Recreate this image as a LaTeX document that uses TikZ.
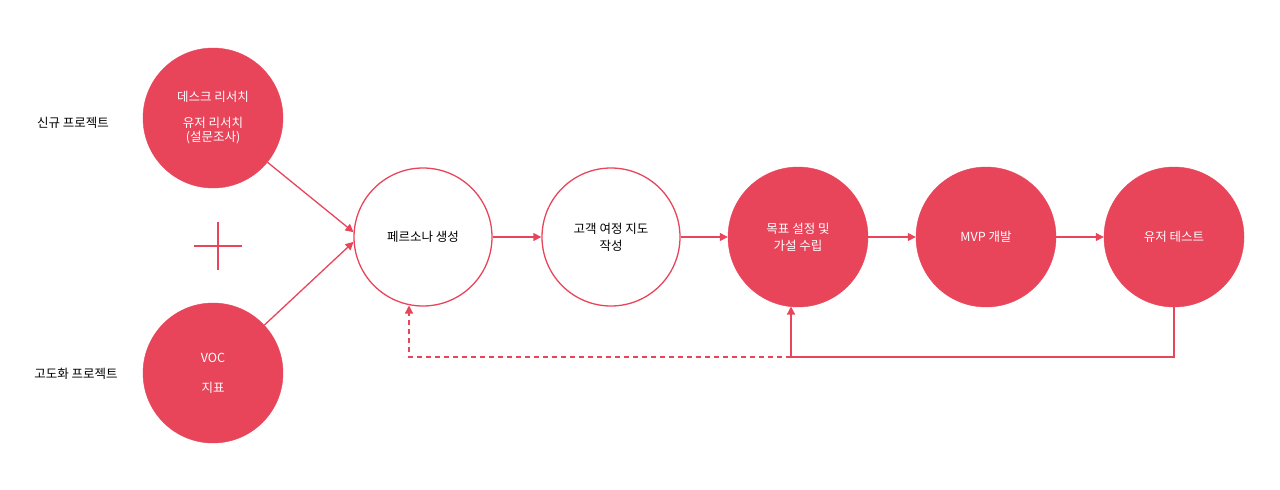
\documentclass[tikz,border=0pt]{standalone}
\usepackage{fontspec}
\setmainfont{Noto Sans CJK KR}[BoldFont={Noto Sans CJK KR Bold}]
\usetikzlibrary{arrows.meta}
\definecolor{rd}{HTML}{E8445A}
\begin{document}
\begin{tikzpicture}[x=1pt,y=-1pt,
  fc/.style={circle,fill=rd,draw=rd,minimum size=140pt,inner sep=0pt,text=white,align=center,font=\fontsize{12.5}{20}\selectfont},
  oc/.style={circle,fill=white,draw=rd,line width=1.3pt,minimum size=138pt,inner sep=0pt,text=black,align=center,font=\fontsize{12.5}{17}\selectfont},
  ln/.style={draw=rd,line width=1.3pt},
  ar/.style={ln,-{Triangle[length=8pt,width=8pt]}},
  lab/.style={font=\fontsize{12.5}{15}\selectfont}]
\useasboundingbox (0,0) rectangle (1280,490);
\node[fc] (a) at (213,118) {데스크 리서치\\[6pt]유저 리서치\\[-6pt](설문조사)};
\node[fc] (b) at (213,373) {VOC\\[10pt]지표};
\node[lab] (la) at (73,123) {신규 프로젝트};
\node[lab] (lb) at (76,374) {고도화 프로젝트};
\draw[ln] (194,246) -- (242,246) (218,222) -- (218,270);
\node[oc] (p) at (423,237) {페르소나 생성};
\node[oc] (j) at (611,237) {고객 여정 지도\\작성};
\node[fc,font=\fontsize{12.5}{17}\selectfont] (g) at (798,237) {목표 설정 및\\가설 수립};
\node[fc] (m) at (986,237) {MVP 개발};
\node[fc] (u) at (1174,237) {유저 테스트};
\draw[ar] (a) -- (p.176);
\draw[ar] (b) -- (p.184);
\draw[ar] (p) -- (j);
\draw[ar] (j) -- (g);
\draw[ar] (g) -- (m);
\draw[ar] (m) -- (u);
\coordinate (c1) at (1174,357);
\coordinate (c2) at (791,357);
\coordinate (c3) at (409,357);
\draw[ar] (u.south) -- (c1) -- (c2) -- (791,306.5);
\draw[ar,dashed,dash pattern=on 5pt off 4pt] (c2) -- (c3) -- (409,305.5);
\end{tikzpicture}
\end{document}
